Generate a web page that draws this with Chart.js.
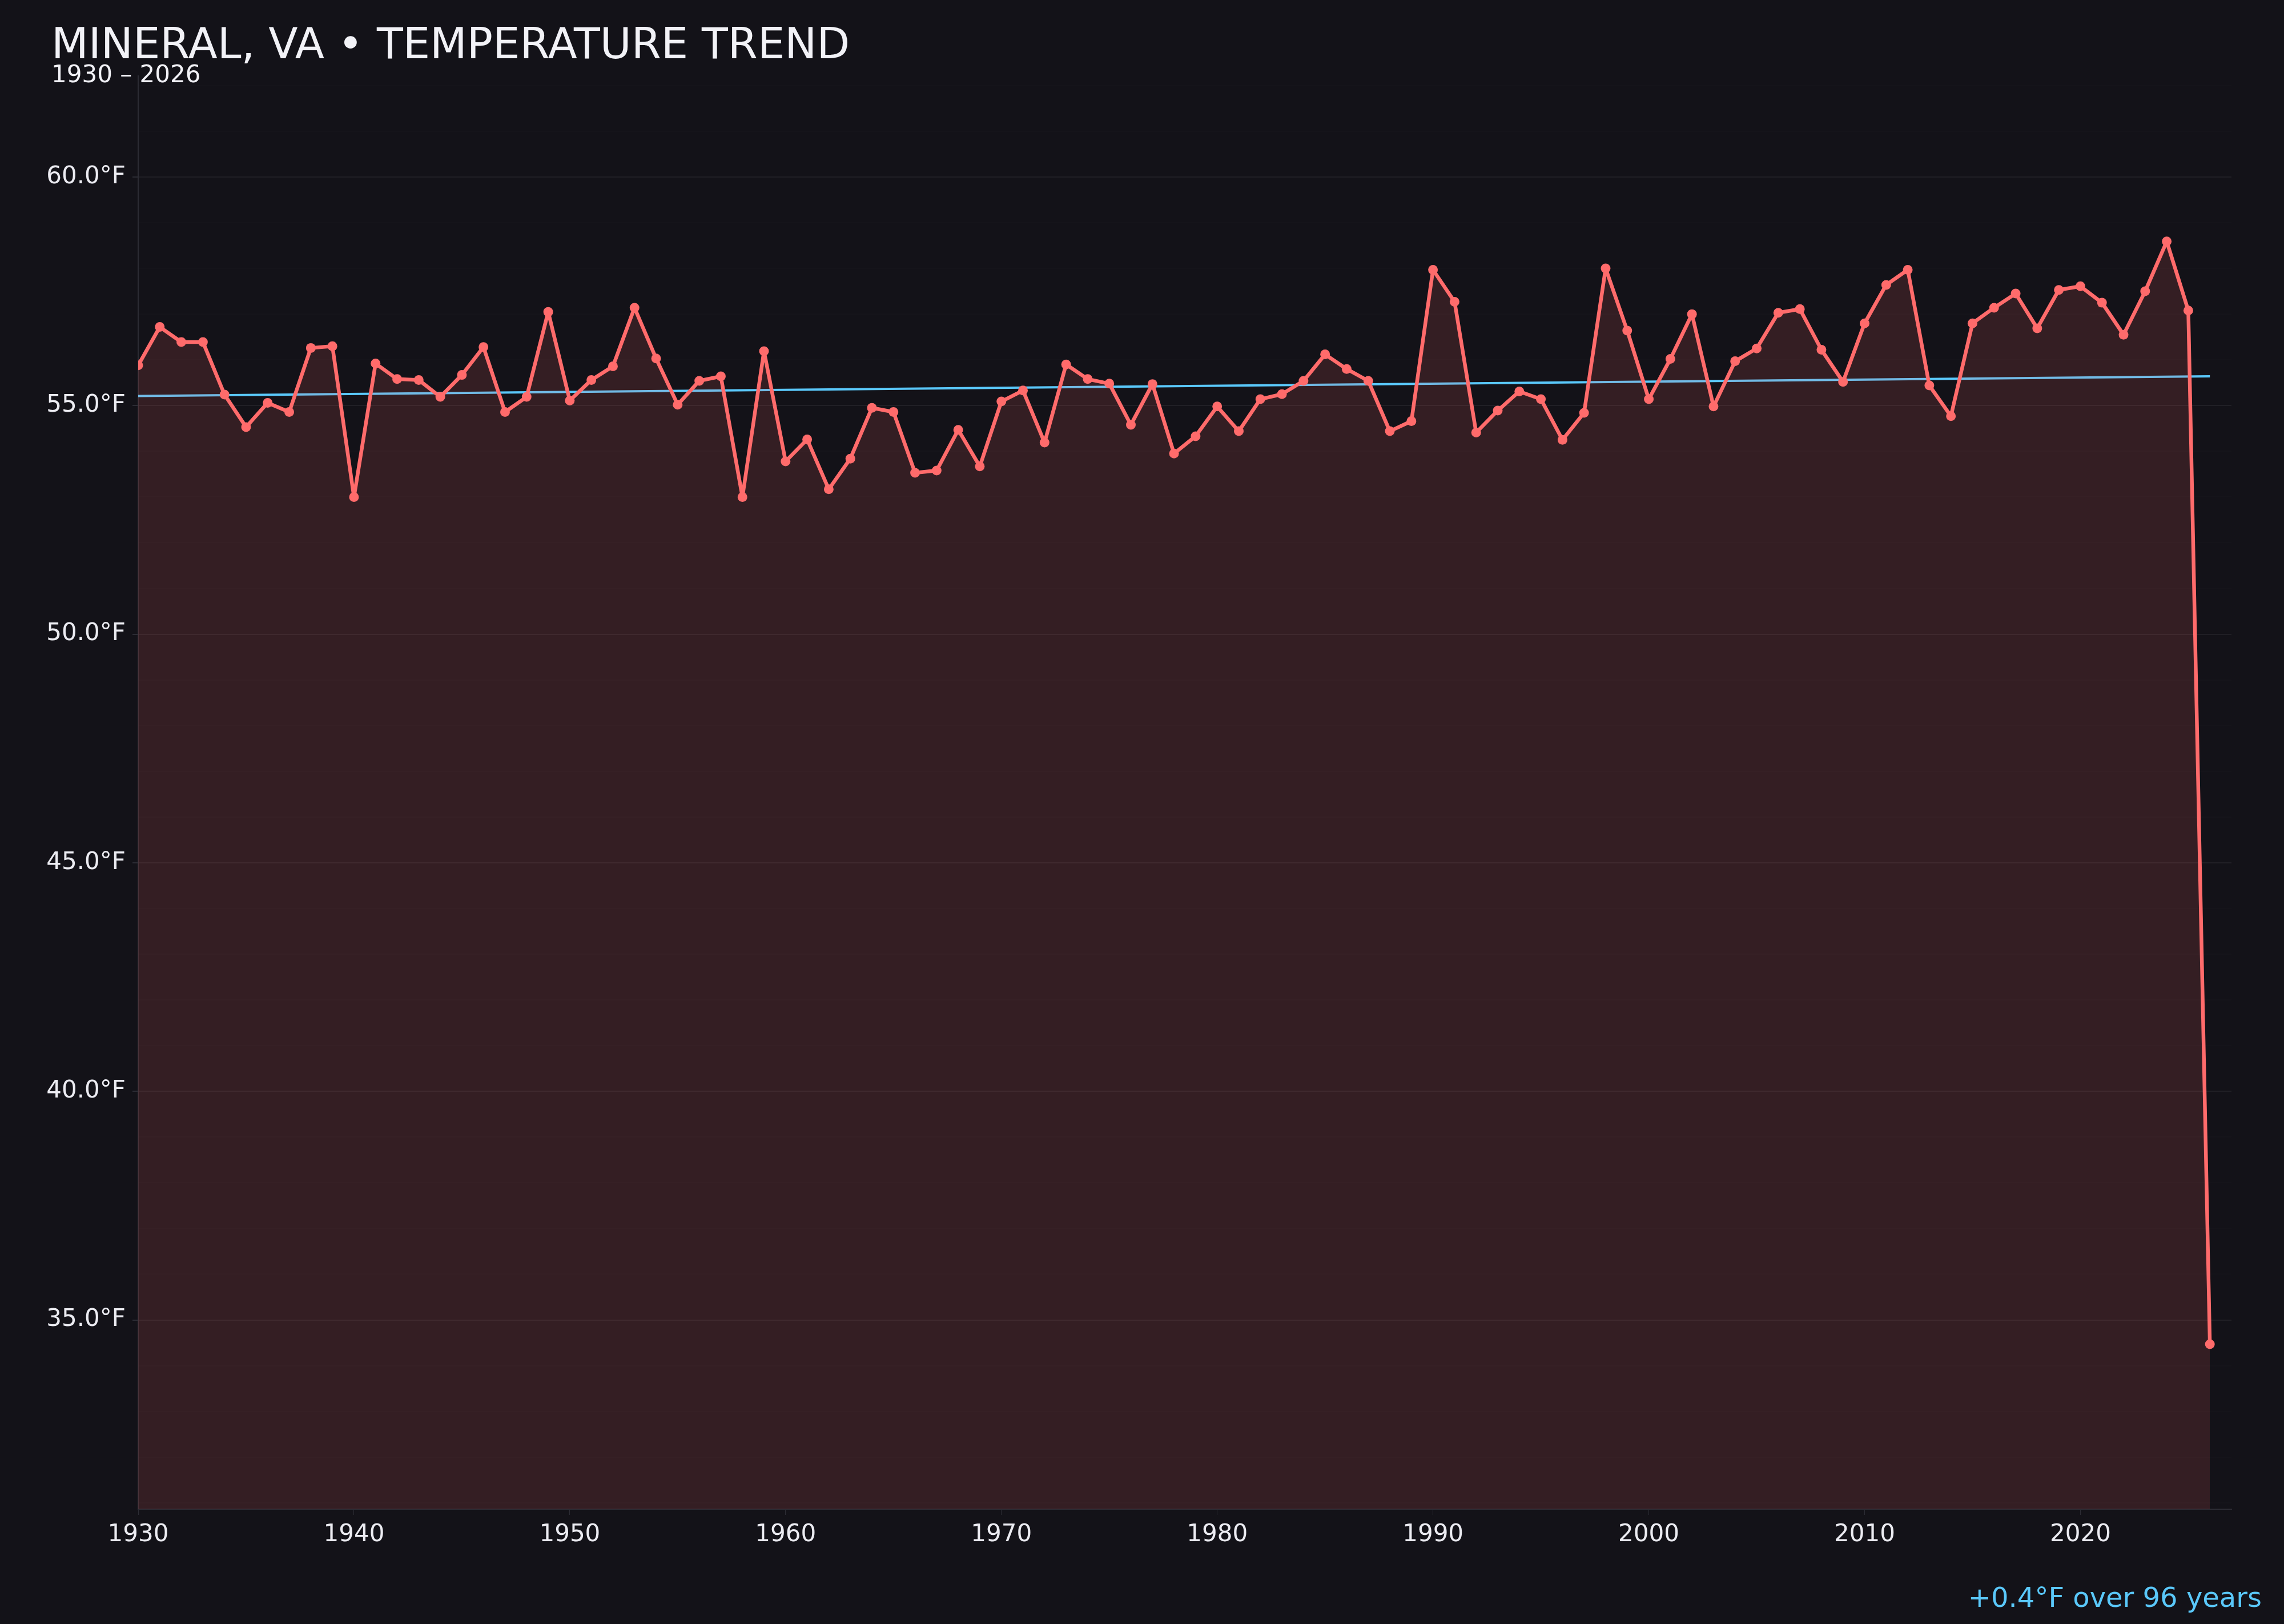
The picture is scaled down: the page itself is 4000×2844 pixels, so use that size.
<!DOCTYPE html>
<html>
<head>
<meta charset="utf-8">
<script src="https://cdn.jsdelivr.net/npm/chart.js@4.4.1/dist/chart.umd.min.js"></script>
<style>
  html, body { margin: 0; padding: 0; background: #131218; }
  #wrap { width: 4000px; height: 2844px; position: relative; }
</style>
</head>
<body>
<div id="wrap"><canvas id="tempChart"></canvas></div>
<script>
const years = [
	1930, 1931, 1932, 1933, 1934, 1935, 1936, 1937, 1938, 1939,
	1940, 1941, 1942, 1943, 1944, 1945, 1946, 1947, 1948, 1949,
	1950, 1951, 1952, 1953, 1954, 1955, 1956, 1957, 1958, 1959,
	1960, 1961, 1962, 1963, 1964, 1965, 1966, 1967, 1968, 1969,
	1970, 1971, 1972, 1973, 1974, 1975, 1976, 1977, 1978, 1979,
	1980, 1981, 1982, 1983, 1984, 1985, 1986, 1987, 1988, 1989,
	1990, 1991, 1992, 1993, 1994, 1995, 1996, 1997, 1998, 1999,
	2000, 2001, 2002, 2003, 2004, 2005, 2006, 2007, 2008, 2009,
	2010, 2011, 2012, 2013, 2014, 2015, 2016, 2017, 2018, 2019,
	2020, 2021, 2022, 2023, 2024, 2025, 2026,
];

// yearly mean temperature, °F
const temps = [
	55.88, 56.72, 56.39, 56.39, 55.24, 54.53, 55.06, 54.86, 56.26, 56.30,
	53.00, 55.92, 55.58, 55.56, 55.19, 55.67, 56.28, 54.86, 55.19, 57.05,
	55.11, 55.56, 55.86, 57.14, 56.03, 55.02, 55.54, 55.64, 53.00, 56.19,
	53.78, 54.26, 53.17, 53.84, 54.95, 54.86, 53.53, 53.58, 54.47, 53.67,
	55.09, 55.33, 54.19, 55.90, 55.58, 55.48, 54.58, 55.47, 53.95, 54.33,
	54.98, 54.44, 55.14, 55.25, 55.54, 56.12, 55.80, 55.54, 54.44, 54.66,
	57.97, 57.27, 54.41, 54.89, 55.31, 55.14, 54.25, 54.84, 58.00, 56.64,
	55.14, 56.02, 57.00, 54.98, 55.97, 56.25, 57.03, 57.11, 56.22, 55.52,
	56.80, 57.64, 57.97, 55.44, 54.77, 56.80, 57.14, 57.45, 56.69, 57.53,
	57.61, 57.25, 56.55, 57.50, 58.59, 57.08, 34.47,
];

// trend line end points
const trendYears = [1930, 2026];
const trendTemps = [55.21, 55.64];

const xTicks = [1930, 1940, 1950, 1960, 1970, 1980, 1990, 2000, 2010, 2020];
const yTicks = [31, 32, 33, 34, 35, 36, 37, 38, 39, 40, 41, 42, 43, 44, 45, 46,
	47, 48, 49, 50, 51, 52, 53, 54, 55, 56, 57, 58, 59, 60, 61, 62];

const titleText = "MINERAL, VA \u2022 TEMPERATURE TREND";
const subtitleText = "1930 \u2013 2026";
const footerText = "+0.4\u00b0F over 96 years";

const FONT = '"DejaVu Sans", Verdana, sans-serif';
const RED = "#ff6b6b";
const BLUE = "#5ac8fa";

//////////////////////////////// text drawn on the canvas

const headerPlugin = {
	id: "header",
	afterDraw(chart) {
		const ctx = chart.ctx;
		ctx.save();
		ctx.textBaseline = "alphabetic";
		ctx.fillStyle = "#f2f2f7";
		ctx.textAlign = "left";
		ctx.font = "75px " + FONT;
		ctx.fillText(titleText, 90, 102);
		ctx.font = "42px " + FONT;
		ctx.fillText(subtitleText, 90, 144);
		ctx.fillStyle = BLUE;
		ctx.textAlign = "right";
		ctx.font = "48px " + FONT;
		ctx.fillText(footerText, 3961, 2814);
		ctx.restore();
	},
};

const tempData = years.map((y, i) => ({ x: y, y: temps[i] }));
const trendData = trendYears.map((y, i) => ({ x: y, y: trendTemps[i] }));

new Chart(document.getElementById("tempChart"), {
	type: "line",
	data: {
		datasets: [
			{
				data: tempData,
				borderColor: RED,
				borderWidth: 6.5,
				borderJoinStyle: "round",
				backgroundColor: "rgba(255, 107, 107, 0.14)",
				fill: "start",
				pointRadius: 8.5,
				pointBackgroundColor: RED,
				pointBorderWidth: 0,
				tension: 0,
			},
			{
				data: trendData,
				borderColor: BLUE,
				borderWidth: 4,
				pointRadius: 0,
				fill: false,
			},
		],
	},
	options: {
		responsive: true,
		maintainAspectRatio: false,
		animation: false,
		layout: {
			padding: { top: 133, right: 92, bottom: 0, left: 0 },
		},
		plugins: {
			legend: { display: false },
			tooltip: { enabled: false },
		},
		scales: {
			x: {
				type: "linear",
				min: 1930,
				max: 2027,
				afterBuildTicks: (scale) => {
					scale.ticks = xTicks.map((v) => ({ value: v }));
				},
				afterFit: (scale) => {
					scale.height = 201;
				},
				grid: {
					drawOnChartArea: false,
					color: "#2c2c34",
					tickLength: 10,
				},
				border: { color: "#2c2c34", width: 2 },
				ticks: {
					color: "#ececf2",
					font: { family: FONT, size: 42 },
					padding: 10,
					maxRotation: 0,
					autoSkip: false,
					callback: (v) => String(v),
				},
			},
			y: {
				min: 30.86,
				max: 62.21,
				afterBuildTicks: (scale) => {
					scale.ticks = yTicks.map((v) => ({ value: v }));
				},
				afterFit: (scale) => {
					scale.width = 242;
				},
				grid: {
					color: (c) => (c.tick && c.tick.value % 5 === 0 ? "rgba(255,255,255,0.06)" : "rgba(255,255,255,0.011)"),
					tickColor: (c) => (c.tick && c.tick.value % 5 === 0 ? "#2c2c34" : "rgba(0,0,0,0)"),
					tickLength: 10,
					lineWidth: 2,
				},
				border: { color: "#2c2c34", width: 2 },
				ticks: {
					color: "#ececf2",
					font: { family: FONT, size: 42 },
					padding: 12,
					autoSkip: false,
					callback: (v) => (v % 5 === 0 ? v.toFixed(1) + "\u00b0F" : ""),
				},
			},
		},
	},
	plugins: [headerPlugin],
});
</script>
</body>
</html>
